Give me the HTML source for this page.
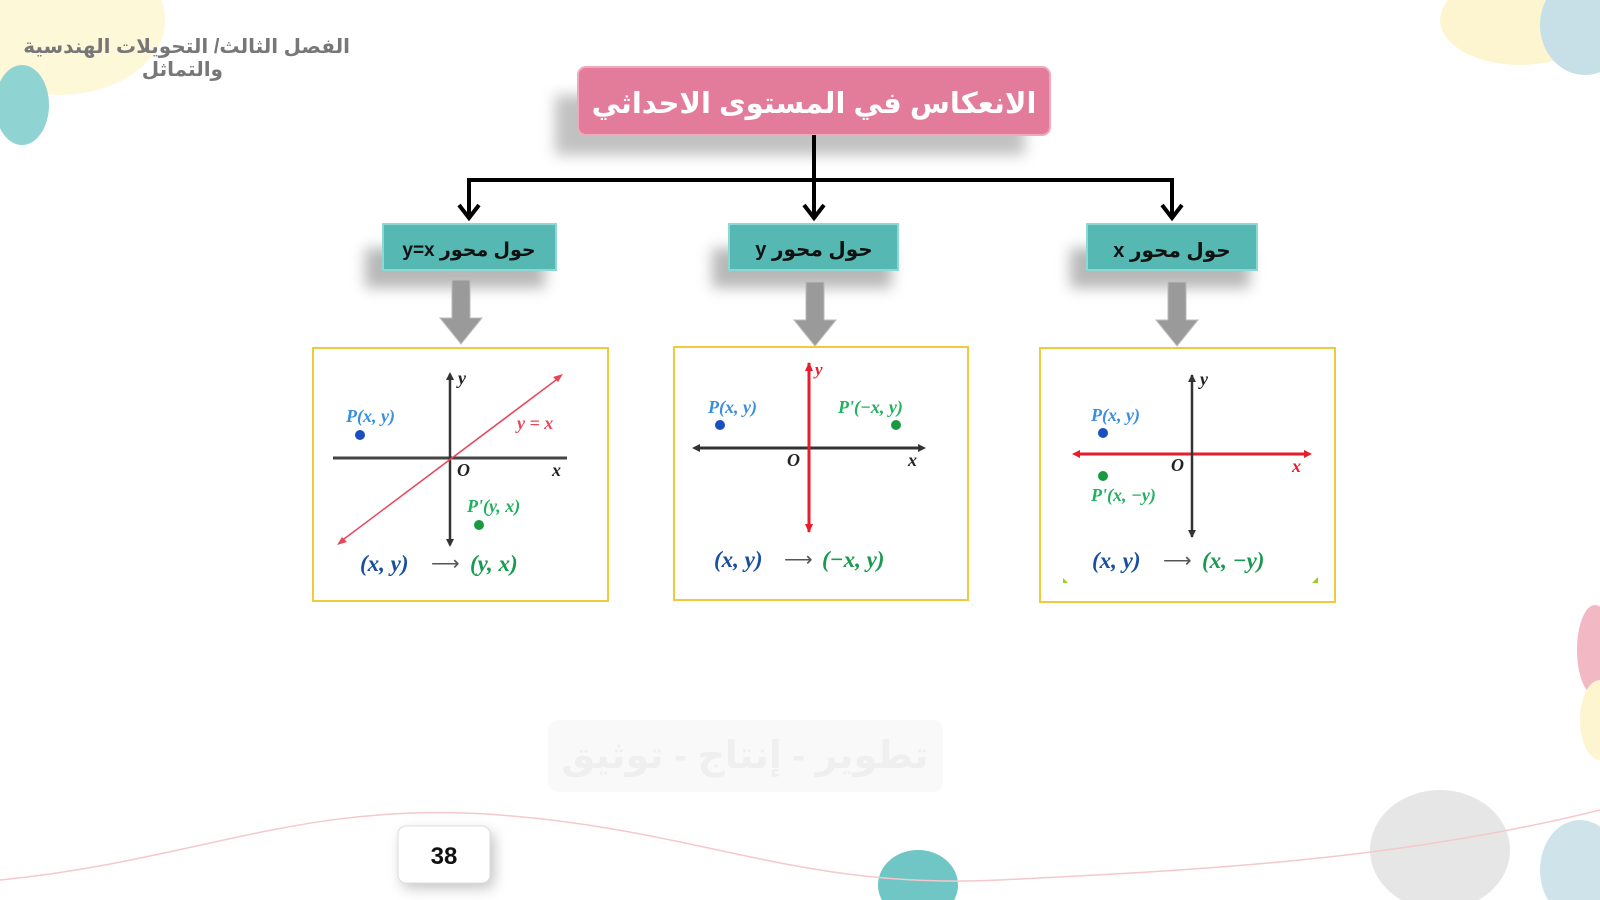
<!DOCTYPE html>
<html><head><meta charset="utf-8"><style>
html,body{margin:0;padding:0;background:#fff;width:1600px;height:900px;overflow:hidden}
svg{display:block}
.ar{font-family:"Liberation Sans","Noto Sans CJK SC","DejaVu Sans",sans-serif;font-weight:bold}
.m{font-family:"Liberation Serif",serif;font-style:italic;font-weight:bold}
</style></head><body>
<svg width="1600" height="900" viewBox="0 0 1600 900" xmlns="http://www.w3.org/2000/svg">
<defs>
<filter id="sh" x="-20%" y="-50%" width="140%" height="200%"><feGaussianBlur stdDeviation="7"/></filter>
</defs>
<rect width="1600" height="900" fill="#fff"/>
<ellipse cx="60" cy="20" rx="105" ry="75" fill="#fdf8d8"/>
<ellipse cx="22" cy="105" rx="27" ry="40" fill="#8fd3d3"/>
<ellipse cx="1520" cy="20" rx="80" ry="45" fill="#fdf5d0"/>
<ellipse cx="1585" cy="25" rx="45" ry="50" fill="#c7dfe6"/>
<ellipse cx="1595" cy="650" rx="18" ry="45" fill="#f2b8c4"/>
<ellipse cx="1600" cy="720" rx="20" ry="40" fill="#fdf5d0"/>
<ellipse cx="1440" cy="850" rx="70" ry="60" fill="#e6e6e6"/>
<ellipse cx="1580" cy="870" rx="40" ry="50" fill="#cfe3ea"/>
<ellipse cx="918" cy="885" rx="40" ry="35" fill="#6fc6c4"/>
<path d="M0,880 C200,860 300,800 500,815 C700,830 800,890 1000,880 C1200,870 1400,860 1600,810" fill="none" stroke="#f4c8cc" stroke-width="1.5"/>
<rect x="548" y="720" width="395" height="72" rx="10" fill="#f9f9f9"/>
<text x="745" y="768" class="ar" font-size="38" fill="#efefef" text-anchor="middle" direction="rtl">تطوير - إنتاج - توثيق</text>
<text x="350" y="53" class="ar" font-size="20" fill="#777" text-anchor="end">الفصل الثالث/ التحويلات الهندسية</text>
<text x="223" y="76" class="ar" font-size="20" fill="#777" text-anchor="end">والتماثل</text>
<rect x="555" y="95" width="470" height="60" fill="#999" opacity="0.6" filter="url(#sh)"/>
<rect x="578" y="67" width="472" height="68" rx="8" fill="#e27c9a" stroke="#f0a8bc" stroke-width="2"/>
<text x="814" y="113" class="ar" font-size="29" fill="#fff" text-anchor="middle">الانعكاس في المستوى الاحداثي</text>
<g stroke="#000" stroke-width="4" fill="none">
<line x1="814" y1="135" x2="814" y2="218"/>
<polyline points="469,218 469,180 1172,180 1172,218"/>
<path d="M459,205 L469,218 L479,205"/>
<path d="M804,205 L814,218 L824,205"/>
<path d="M1162,205 L1172,218 L1182,205"/>
</g>
<g>
<rect x="365" y="248" width="180" height="40" fill="#888" opacity="0.6" filter="url(#sh)"/>
<rect x="383" y="224" width="173" height="46" fill="#55b8b2" stroke="#8fd7d2" stroke-width="2"/>
<text x="469" y="256" class="ar" font-size="19" fill="#111" text-anchor="middle" direction="rtl">حول محور y=x</text>
<rect x="712" y="248" width="180" height="40" fill="#888" opacity="0.6" filter="url(#sh)"/>
<rect x="729" y="224" width="169" height="46" fill="#55b8b2" stroke="#8fd7d2" stroke-width="2"/>
<text x="814" y="256" class="ar" font-size="20" fill="#111" text-anchor="middle" direction="rtl">حول محور y</text>
<rect x="1070" y="248" width="180" height="40" fill="#888" opacity="0.6" filter="url(#sh)"/>
<rect x="1087" y="224" width="170" height="46" fill="#55b8b2" stroke="#8fd7d2" stroke-width="2"/>
<text x="1172" y="257" class="ar" font-size="20" fill="#111" text-anchor="middle" direction="rtl">حول محور x</text>
</g>
<g fill="#9a9a9a" stroke="#bbb" stroke-width="1">
<path d="M452,280 h18 v38 h12 l-21,26 l-21,-26 h12z"/>
<path d="M806,282 h18 v38 h12 l-21,26 l-21,-26 h12z"/>
<path d="M1168,282 h18 v38 h12 l-21,26 l-21,-26 h12z"/>
</g>
<rect x="313" y="348" width="295" height="253" fill="#fff" stroke="#f2c83c" stroke-width="2"/>
<rect x="674" y="347" width="294" height="253" fill="#fff" stroke="#f2c83c" stroke-width="2"/>
<rect x="1040" y="348" width="295" height="254" fill="#fff" stroke="#f2c83c" stroke-width="2"/>
<g>
<line x1="333" y1="458" x2="567" y2="458" stroke="#444" stroke-width="3"/>
<line x1="450" y1="374" x2="450" y2="545" stroke="#333" stroke-width="2.5"/>
<path d="M446,380 L450,372 L454,380z M446,539 L450,547 L454,539z" fill="#333"/>
<line x1="340" y1="542" x2="560" y2="377" stroke="#e8455a" stroke-width="1.5"/>
<path d="M563,374 l-10,3 l5,5z M337,545 l10,-3 l-5,-5z" fill="#e8455a"/>
<text x="458" y="384" class="m" font-size="18" fill="#222">y</text>
<text x="346" y="422" class="m" font-size="18" fill="#3a8ee0">P(x, y)</text>
<circle cx="360" cy="435" r="5" fill="#1a4fc0"/>
<text x="517" y="429" class="m" font-size="18" fill="#e8455a">y = x</text>
<text x="457" y="476" class="m" font-size="18" fill="#222">O</text>
<text x="552" y="476" class="m" font-size="18" fill="#222">x</text>
<text x="467" y="512" class="m" font-size="18" fill="#22b060">P'(y, x)</text>
<circle cx="479" cy="525" r="5" fill="#1a9a40"/>
<text x="360" y="571" class="m" font-size="23" fill="#1a4fa0">(x, y)</text>
<text x="431" y="570" font-size="20" fill="#555" font-family="Liberation Sans">⟶</text>
<text x="470" y="571" class="m" font-size="23" fill="#1a9a50">(y, x)</text>
</g>
<g>
<line x1="697" y1="448" x2="922" y2="448" stroke="#333" stroke-width="3"/>
<path d="M700,444 l-8,4 l8,4z M918,444 l8,4 l-8,4z" fill="#333"/>
<line x1="809" y1="363" x2="809" y2="532" stroke="#e81c2a" stroke-width="3"/>
<path d="M805,371 l4,-9 l4,9z M805,524 l4,9 l4,-9z" fill="#e81c2a"/>
<text x="815" y="375" class="m" font-size="17" fill="#e81c2a">y</text>
<text x="708" y="413" class="m" font-size="18" fill="#3a8ee0">P(x, y)</text>
<circle cx="720" cy="425" r="5" fill="#1a4fc0"/>
<text x="838" y="413" class="m" font-size="18" fill="#22b060">P'(−x, y)</text>
<circle cx="896" cy="425" r="5" fill="#1a9a40"/>
<text x="787" y="466" class="m" font-size="18" fill="#222">O</text>
<text x="908" y="466" class="m" font-size="18" fill="#222">x</text>
<text x="714" y="567" class="m" font-size="23" fill="#1a4fa0">(x, y)</text>
<text x="784" y="566" font-size="20" fill="#555" font-family="Liberation Sans">⟶</text>
<text x="822" y="567" class="m" font-size="23" fill="#1a9a50">(−x, y)</text>
</g>
<g>
<line x1="1077" y1="454" x2="1307" y2="454" stroke="#e81c2a" stroke-width="3"/>
<path d="M1080,450 l-8,4 l8,4z M1304,450 l8,4 l-8,4z" fill="#e81c2a"/>
<line x1="1192" y1="375" x2="1192" y2="537" stroke="#333" stroke-width="2.5"/>
<path d="M1188,382 l4,-8 l4,8z M1188,530 l4,8 l4,-8z" fill="#333"/>
<text x="1200" y="385" class="m" font-size="18" fill="#222">y</text>
<text x="1091" y="421" class="m" font-size="18" fill="#3a8ee0">P(x, y)</text>
<circle cx="1103" cy="433" r="5" fill="#1a4fc0"/>
<circle cx="1103" cy="476" r="5" fill="#1a9a40"/>
<text x="1091" y="501" class="m" font-size="18" fill="#22b060">P'(x, −y)</text>
<text x="1171" y="471" class="m" font-size="18" fill="#222">O</text>
<text x="1292" y="472" class="m" font-size="18" fill="#e81c2a">x</text>
<text x="1092" y="568" class="m" font-size="23" fill="#1a4fa0">(x, y)</text>
<text x="1163" y="567" font-size="20" fill="#555" font-family="Liberation Sans">⟶</text>
<text x="1202" y="568" class="m" font-size="23" fill="#1a9a50">(x, −y)</text>
<path d="M1063,578 v5 h5z" fill="#9cd020"/><path d="M1318,583 h-6 l6,-6z" fill="#9cd020"/>
</g>
<rect x="402" y="832" width="92" height="56" rx="8" fill="#999" opacity="0.6" filter="url(#sh)"/>
<rect x="398" y="826" width="92" height="57" rx="8" fill="#fff" stroke="#ddd"/>
<text x="444" y="864" class="ar" font-size="24" fill="#111" text-anchor="middle">38</text>
</svg>
</body></html>
